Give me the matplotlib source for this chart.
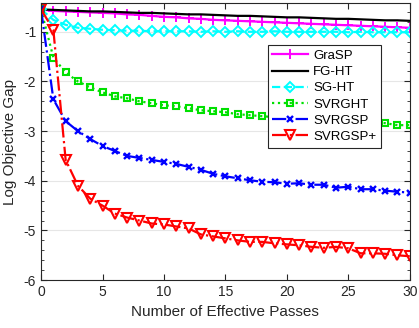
import matplotlib
matplotlib.use("Agg")
import matplotlib.pyplot as plt
from matplotlib.ticker import MultipleLocator

plt.rcParams["font.family"] = ["Liberation Sans", "DejaVu Sans"]
plt.rcParams["axes.unicode_minus"] = False

passes = list(range(31))

grasp = [-0.55, -0.58, -0.59, -0.60, -0.61, -0.62, -0.63, -0.65, -0.66, -0.68,
         -0.70, -0.71, -0.73, -0.74, -0.76, -0.77, -0.78, -0.79, -0.80, -0.81,
         -0.82, -0.83, -0.84, -0.85, -0.86, -0.87, -0.88, -0.89, -0.90, -0.91,
         -0.92]
fght = [-0.55, -0.56, -0.57, -0.58, -0.59, -0.59, -0.60, -0.61, -0.62, -0.62,
        -0.63, -0.64, -0.65, -0.65, -0.66, -0.67, -0.68, -0.68, -0.69, -0.70,
        -0.71, -0.71, -0.72, -0.73, -0.74, -0.74, -0.75, -0.76, -0.77, -0.77,
        -0.78]
sght = [-0.55, -0.76, -0.86, -0.92, -0.94, -0.96, -0.97, -0.98, -0.98, -0.99,
        -0.99, -0.99, -0.99, -1.00, -0.99, -1.00, -0.99, -1.00, -1.00, -0.99,
        -1.00, -1.00, -1.00, -1.00, -1.00, -1.01, -1.00, -1.01, -1.01, -1.01,
        -1.01]
svrght = [-0.55, -1.52, -1.82, -2.00, -2.12, -2.22, -2.30, -2.34, -2.40, -2.44,
          -2.48, -2.50, -2.54, -2.58, -2.60, -2.62, -2.66, -2.68, -2.70, -2.72,
          -2.73, -2.75, -2.76, -2.77, -2.79, -2.80, -2.81, -2.82, -2.84, -2.88,
          -2.88]
svrgsp = [-0.55, -2.36, -2.80, -3.00, -3.16, -3.30, -3.40, -3.50, -3.54, -3.58,
          -3.62, -3.66, -3.72, -3.78, -3.86, -3.91, -3.95, -3.99, -4.02, -4.03,
          -4.06, -4.05, -4.08, -4.08, -4.14, -4.12, -4.17, -4.17, -4.20, -4.22,
          -4.24]
svrgsp_plus = [-0.55, -0.96, -3.58, -4.10, -4.36, -4.50, -4.66, -4.74, -4.80, -4.86,
               -4.88, -4.92, -4.96, -5.08, -5.12, -5.16, -5.20, -5.23, -5.23, -5.26,
               -5.28, -5.30, -5.33, -5.35, -5.33, -5.36, -5.46, -5.46, -5.47, -5.50,
               -5.52]

AX = "#262626"
fig = plt.figure(figsize=(4.19, 3.28), dpi=100)
ax = fig.add_axes([0.098, 0.146, 0.880, 0.845])

lw = 1.6
ax.plot(passes, grasp, color="magenta", ls="-", lw=lw, marker="+", ms=6.5, mew=1.4,
        label="GraSP")
ax.plot(passes, fght, color="black", ls="-", lw=lw, label="FG-HT")
ax.plot(passes, sght, color="cyan", ls="--", lw=lw, marker="D", ms=5.5, mew=1.4,
        mfc="none", label="SG-HT")
ax.plot(passes, svrght, color="#00e000", ls=":", lw=lw, marker="s", ms=5, mew=1.5,
        mfc="none", label="SVRGHT")
ax.plot(passes, svrgsp, color="blue", ls="-.", lw=lw, marker="x", ms=5, mew=1.7,
        label="SVRGSP")
ax.plot(passes, svrgsp_plus, color="red", ls="-.", lw=lw, marker="v", ms=7, mew=1.5,
        mfc="none", label="SVRGSP+")

ax.set_xlim(0, 30)
ax.set_ylim(-6, -0.42)
ax.xaxis.set_major_locator(MultipleLocator(5))
ax.yaxis.set_major_locator(MultipleLocator(1))
ax.yaxis.set_minor_locator(MultipleLocator(0.2))
ax.grid(axis="y", which="major", color="#e6e6e6", lw=0.8)
ax.set_axisbelow(True)
for s in ax.spines.values():
    s.set_color(AX)
    s.set_linewidth(0.8)
ax.tick_params(which="both", direction="in", top=True, right=True, colors=AX,
               labelsize=10)
ax.tick_params(which="major", length=4)
ax.tick_params(which="minor", length=2.5)
ax.tick_params(axis="x", which="minor", top=False, bottom=False)

ax.set_xlabel("Number of Effective Passes", fontsize=11, color=AX, labelpad=4)
ax.set_ylabel("Log Objective Gap", fontsize=11, color=AX, labelpad=5)

leg = ax.legend(loc="upper left", bbox_to_anchor=(0.615, 0.848), borderaxespad=0,
                fontsize=9.5, handlelength=2.7, handletextpad=0.4,
                labelspacing=0.3, borderpad=0.35, fancybox=False, framealpha=1,
                edgecolor=AX)
leg.get_frame().set_linewidth(0.8)

fig.savefig("out.png", dpi=100)
